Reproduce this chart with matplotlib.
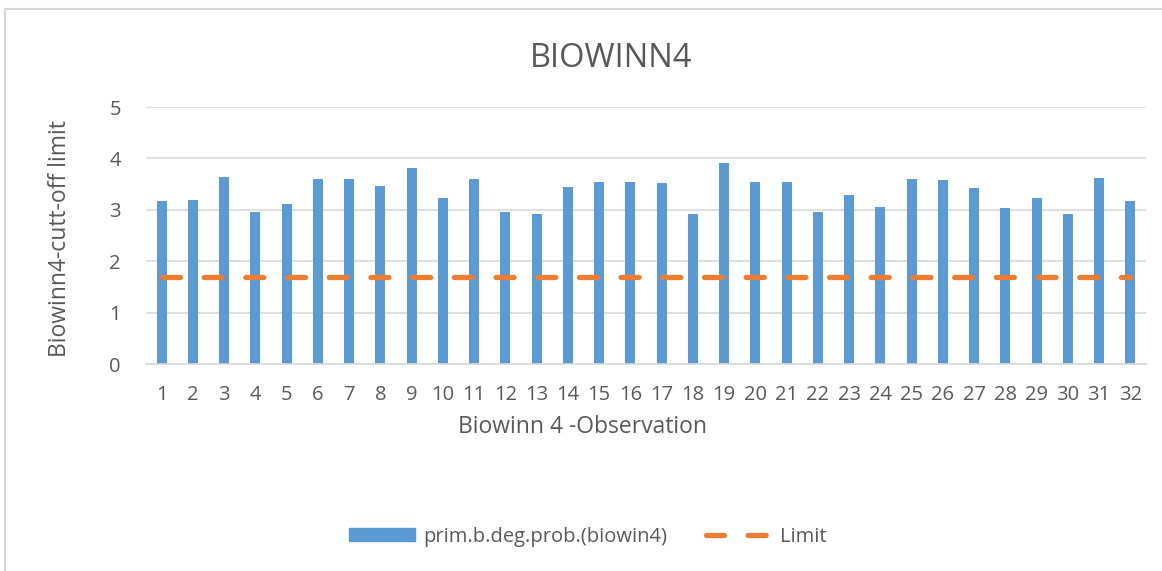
import numpy as np
import matplotlib
matplotlib.use("Agg")
import matplotlib.pyplot as plt
from matplotlib.lines import Line2D

# Observation numbers and BIOWIN4 predictions
observations = [str(i) for i in range(1, 33)]
biowin4 = [3.17, 3.20, 3.63, 2.96, 3.12, 3.59, 3.59, 3.46, 3.81, 3.22,
           3.59, 2.96, 2.91, 3.45, 3.54, 3.54, 3.53, 2.91, 3.92, 3.54,
           3.54, 2.95, 3.29, 3.05, 3.59, 3.58, 3.43, 3.03, 3.22, 2.91,
           3.61, 3.17]
limit_value = 1.7
limit = [limit_value] * len(observations)
y_ticks = [0, 1, 2, 3, 4, 5]

blue = "#5B9BD5"
orange = "#ED7D31"
text_grey = "#595959"
grid_grey = "#D9D9D9"

plt.rcParams["font.family"] = ["Open Sans", "DejaVu Sans"]

fig = plt.figure(figsize=(11.62, 5.71), dpi=100)
ax = fig.add_axes([0.1256, 0.3625, 0.8606, 0.4501])

x = np.arange(len(observations))
ax.bar(x, biowin4, width=0.32, color=blue, zorder=2,
       label="prim.b.deg.prob.(biowin4)")
ax.plot(x, limit, color=orange, linewidth=3.8, dashes=(3.4, 4.5),
        dash_capstyle="round", zorder=3, label="Limit")

ax.set_xlim(-0.5, len(observations) - 0.5)
ax.set_ylim(0, 5)
ax.set_yticks(y_ticks)
ax.set_xticks(x)
ax.set_xticklabels(observations)
ax.yaxis.grid(True, color=grid_grey, linewidth=1.2, zorder=0)
ax.set_axisbelow(True)
for side in ["top", "right", "left"]:
    ax.spines[side].set_visible(False)
ax.spines["bottom"].set_color(grid_grey)
ax.spines["bottom"].set_linewidth(1.2)
ax.tick_params(axis="both", length=0, labelsize=14.5, labelcolor=text_grey)
ax.tick_params(axis="x", pad=15)
ax.tick_params(axis="y", pad=18)

ax.set_xlabel("Biowinn 4 -Observation", fontsize=16.5, color=text_grey,
              va="center", ha="center")
ax.xaxis.set_label_coords(0.437, -0.245)
ax.set_ylabel("Biowinn4-cutt-off limit", fontsize=16.5, color=text_grey,
              va="center", ha="center")
ax.yaxis.set_label_coords(-0.086, 0.49)

fig.text(0.526, 0.898, "BIOWINN4", ha="center", va="center",
         fontsize=23.5, color=text_grey)

handles = [plt.Rectangle((0, 0), 1, 1, color=blue),
           Line2D([0, 1], [0, 0], color=orange, linewidth=3.8,
                  dashes=(3.4, 4.5), dash_capstyle="round")]
fig.legend(handles, ["prim.b.deg.prob.(biowin4)", "Limit"],
           loc="center", bbox_to_anchor=(0.506, 0.06), ncol=2, frameon=False,
           fontsize=14.5, labelcolor=text_grey, handlelength=3.3,
           handleheight=0.65, handletextpad=0.4, columnspacing=1.9)

# chart area border (left and top edges)
fig.add_artist(Line2D([5 / 1162, 5 / 1162], [0, 1 - 9 / 571],
                      transform=fig.transFigure, color=grid_grey, linewidth=1.5))
fig.add_artist(Line2D([5 / 1162, 1], [1 - 9 / 571, 1 - 9 / 571],
                      transform=fig.transFigure, color=grid_grey, linewidth=1.5))

fig.savefig("out.png", dpi=100)
